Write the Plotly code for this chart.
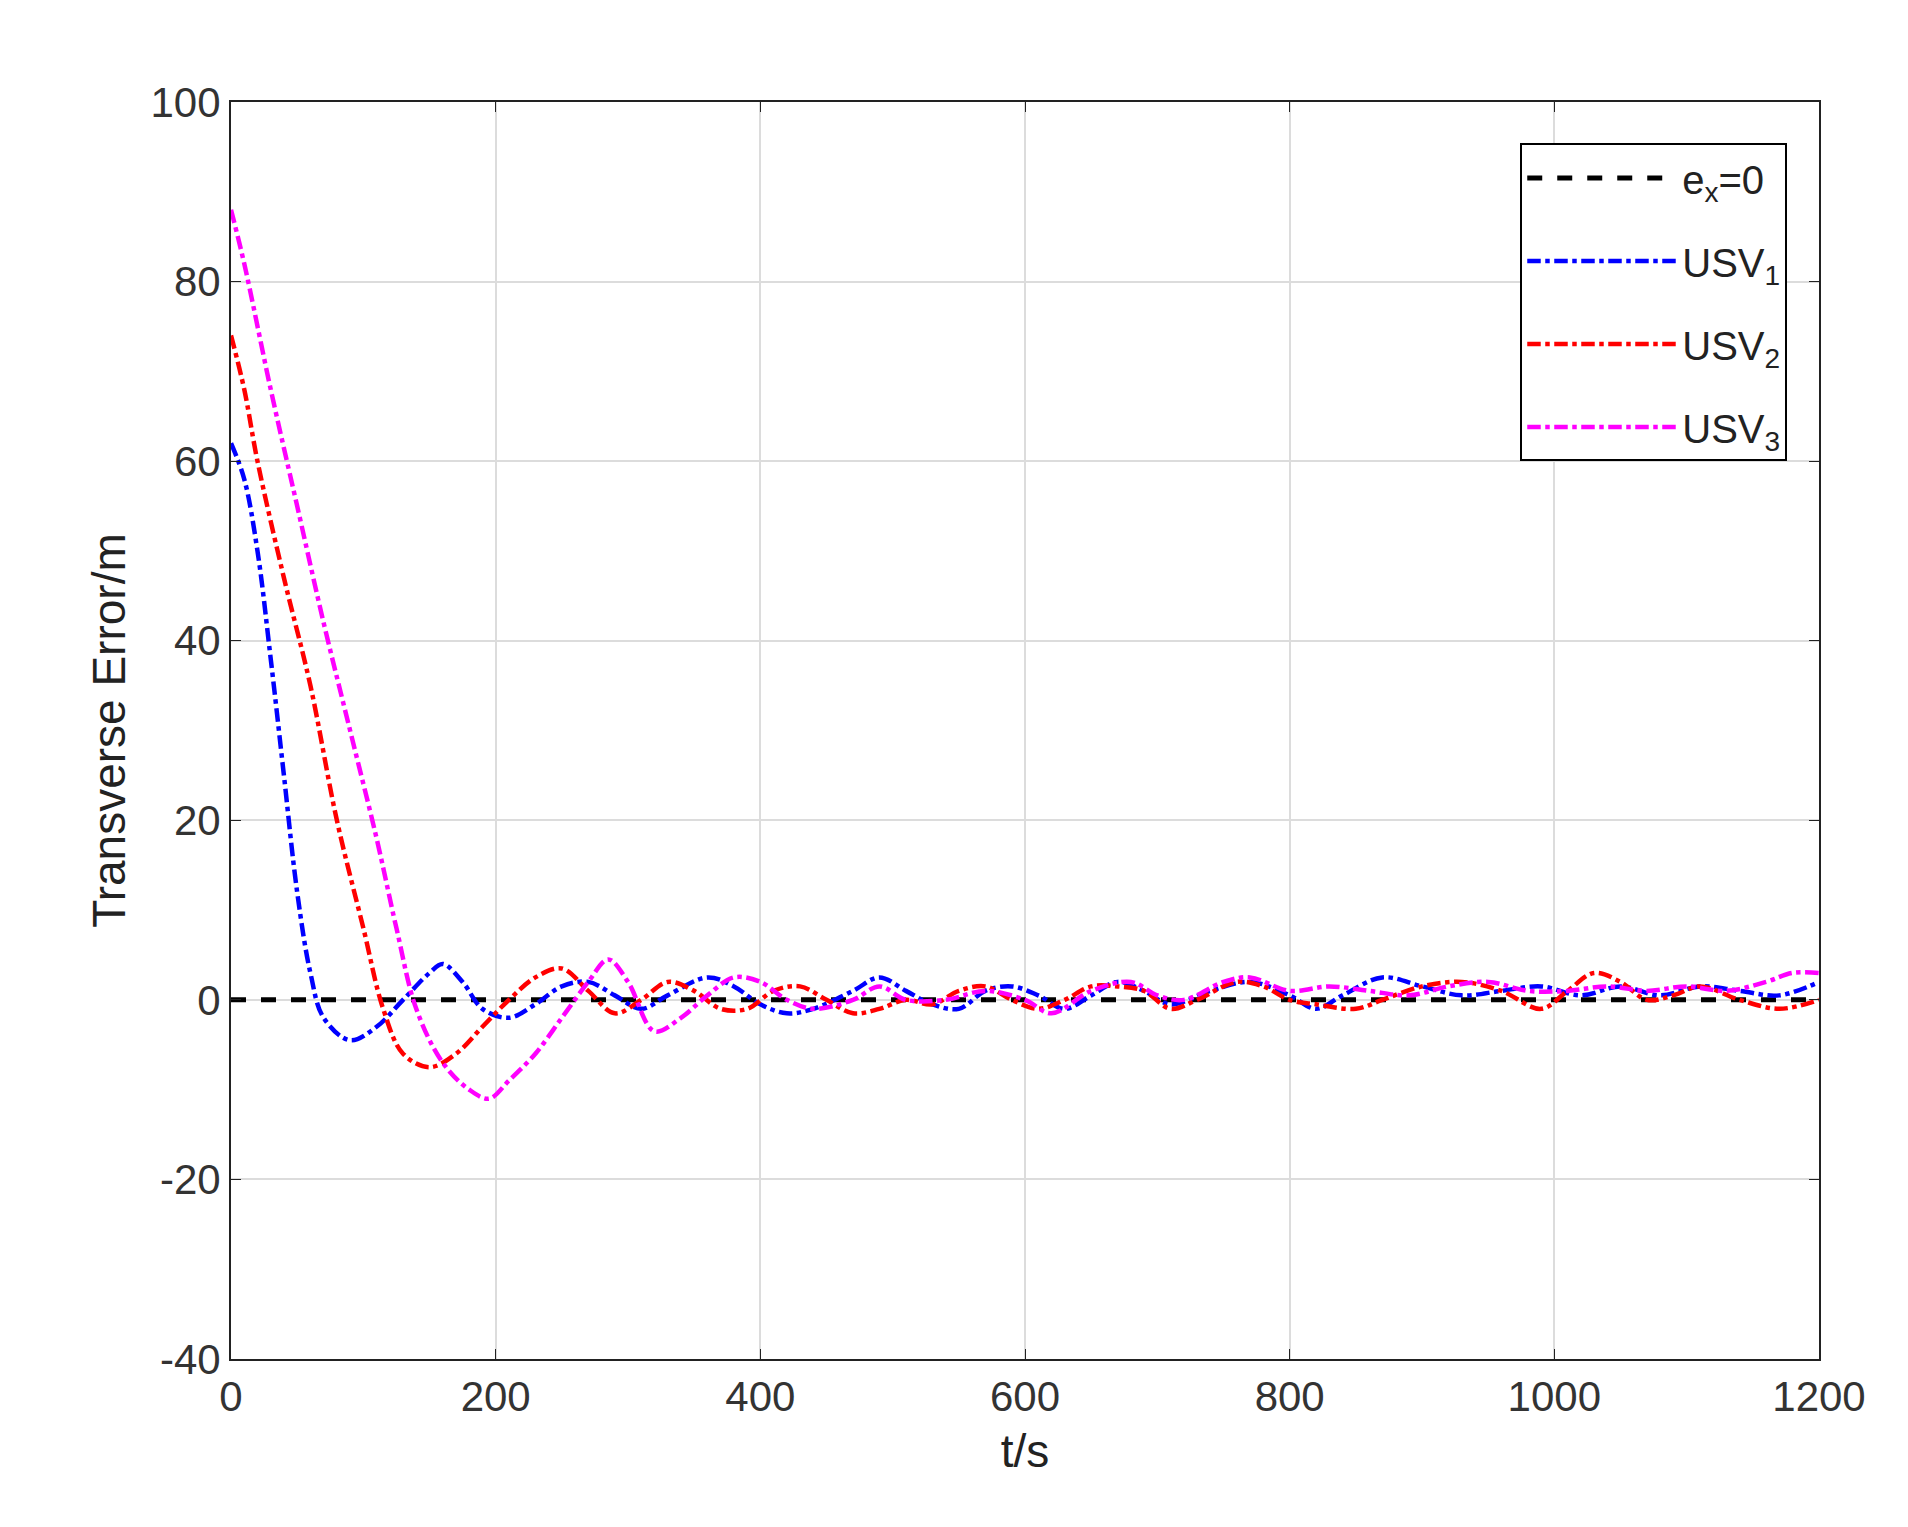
import plotly.graph_objects as go

# values
t1 = [0, 10, 20, 30, 40, 50, 60, 70, 90, 110, 130, 150, 160, 175, 190, 210, 230, 250, 270, 290, 310, 330, 360, 380, 400, 420, 440,
      470, 490, 510, 530, 550, 570, 590, 610, 630, 650, 670, 690, 710, 740, 770, 800, 820, 840, 870, 900, 930, 960, 990,
      1020, 1050, 1080, 1110, 1140, 1170, 1200]
usv1 = [62, 58, 50, 38, 25, 12, 3, -2, -4.5, -3, 0, 3, 4, 2, -1, -2, -0.5, 1.5, 2, 0.5, -1, 0.5, 2.5, 1.5, -0.5, -1.5, -1,
        1, 2.5, 1, -0.5, -1, 1, 1.5, 0.5, -1, 0.5, 2, 1, -0.5, 1, 2, 0.5, -1, 0.5, 2.5, 1.5, 0.5, 1, 1.5,
        0.5, 1.5, 0.5, 1.5, 1, 0.5, 2]

t2 = [0, 10, 20, 40, 60, 80, 100, 115, 130, 150, 170, 190, 210, 230, 250, 270, 290, 310, 330, 350, 370, 390, 410, 430, 450,
      470, 490, 510, 530, 550, 570, 590, 610, 630, 650, 670, 690, 710, 730, 760, 780, 800, 820, 850, 870, 900, 930, 960,
      990, 1010, 1030, 1050, 1070, 1090, 1110, 1140, 1170, 1200]
usv2 = [74, 68, 60, 47, 35, 20, 8, -1, -6, -7.5, -6, -3, 0, 2.5, 3.5, 1, -1.5, 0, 2, 1, -1, -1, 1, 1.5, 0,
        -1.5, -1, 0, -0.5, 1, 1.5, 0, -1, 0, 1.5, 1.5, 1, -1, 0, 2, 1.5, 0, -0.5, -1, 0, 1.5, 2, 1,
        -1, 1, 3, 2, 0, 0.5, 1.5, 0, -1, 0]

t3 = [0, 10, 30, 50, 70, 90, 110, 125, 140, 160, 180, 195, 210, 230, 250, 270, 285, 300, 320, 340, 360, 380, 400, 420, 440,
      470, 490, 510, 540, 570, 600, 620, 650, 680, 700, 720, 750, 770, 800, 830, 860, 890, 920, 950, 980, 1010, 1040,
      1070, 1100, 1130, 1160, 1180, 1200]
usv3 = [88, 82, 68, 55, 42, 30, 18, 8, -1, -7, -10, -11, -9, -6, -2, 2, 4.5, 2, -3.5, -2, 0.5, 2.5, 2, 0, -1,
        0, 1.5, 0, 0, 1, 0, -1.5, 1, 2, 0.5, 0, 2, 2.5, 1, 1.5, 1, 0.5, 1.5, 2, 1, 1, 1.5,
        1, 1.5, 1, 2, 3, 3]

y_ticks = [-40, -20, 0, 20, 40, 60, 80, 100]
y_labels = ['-40', '-20', '0', '20', '40', '60', '80', '100']

fig = go.Figure()
fig.add_trace(go.Scatter(x=[0, 1200], y=[0, 0], mode='lines', name='e<sub>x</sub>=0', legendgroup='a',
                         line=dict(color='black', width=5, dash='dash')))
fig.add_trace(go.Scatter(x=t1, y=usv1, mode='lines', name='USV<sub>1</sub>', line_shape='spline', legendgroup='b',
                         line=dict(color='blue', width=4.5, dash='dashdot')))
fig.add_trace(go.Scatter(x=t2, y=usv2, mode='lines', name='USV<sub>2</sub>', line_shape='spline', legendgroup='c',
                         line=dict(color='red', width=4.5, dash='dashdot')))
fig.add_trace(go.Scatter(x=t3, y=usv3, mode='lines', name='USV<sub>3</sub>', line_shape='spline', legendgroup='d',
                         line=dict(color='magenta', width=4.5, dash='dashdot')))

axis_style = dict(showgrid=True, gridcolor='#dcdcdc', gridwidth=1.5, zeroline=False, showline=True, mirror='ticks',
                  linecolor='#222222', linewidth=2, ticks='inside', ticklen=10, tickcolor='#222222',
                  tickfont=dict(size=42, color='#333333'))

fig.update_layout(
    width=1908, height=1527,
    font=dict(family='Liberation Sans, Arial', color='#222222'),
    plot_bgcolor='white', paper_bgcolor='white',
    margin=dict(l=223, r=97, t=94, b=176),
    xaxis=dict(range=[0, 1200], dtick=200, title=dict(text='t/s', font=dict(size=46), standoff=15), **axis_style),
    yaxis=dict(range=[-40, 100], tickvals=y_ticks, ticktext=y_labels,
               title=dict(text='Transverse Error/m', font=dict(size=46), standoff=10), **axis_style),
    legend=dict(x=0.98, y=0.967, xanchor='right', yanchor='top', bgcolor='white', bordercolor='black', borderwidth=2,
                font=dict(size=40, color='#222222'), itemwidth=150, tracegroupgap=28),
)

fig.write_html("out.html")
